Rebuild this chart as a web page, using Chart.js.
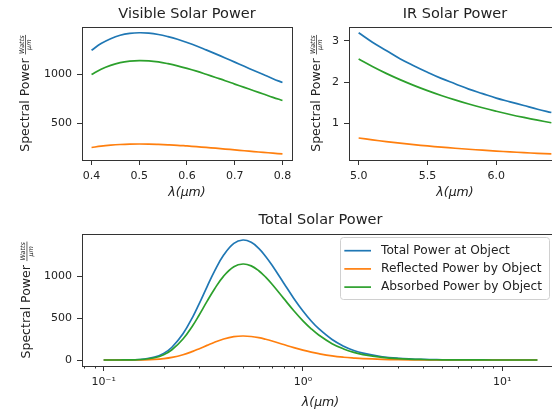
<!DOCTYPE html>
<html>
<head>
<meta charset="utf-8">
<script src="https://cdn.jsdelivr.net/npm/chart.js@4"></script>
<style>
  body { margin: 0; width: 552px; height: 415px; overflow: hidden; background: #fff; position: relative; }
  canvas { position: absolute; }
</style>
</head>
<body>
<canvas id="visChart" width="300" height="205" style="left:0;top:0"></canvas>
<canvas id="irChart" width="261" height="205" style="left:300px;top:0"></canvas>
<canvas id="allChart" width="559" height="212" style="left:0;top:203px"></canvas>
<script>
const seriesLabels = ['Total Power at Object', 'Reflected Power by Object', 'Absorbed Power by Object'];
const seriesColors = ['#1f77b4', '#ff7f0e', '#2ca02c'];

// visible band, 0.4 - 0.8 um
const visWavelength = [0.40, 0.42, 0.44, 0.46, 0.48, 0.50, 0.52, 0.54, 0.56, 0.58, 0.60, 0.62, 0.64, 0.66, 0.68, 0.70, 0.72, 0.74, 0.76, 0.78, 0.80];
const visTotal = [1250, 1319, 1369, 1404, 1423, 1430, 1426, 1412, 1390, 1363, 1330, 1294, 1254, 1213, 1171, 1128, 1085, 1042, 1000, 958, 918];
const visReflected = [250, 264, 274, 281, 285, 286, 285, 282, 278, 273, 266, 259, 251, 243, 234, 226, 217, 208, 200, 192, 184];
const visAbsorbed = [1000, 1055, 1095, 1123, 1138, 1144, 1141, 1130, 1112, 1090, 1064, 1035, 1003, 970, 937, 902, 868, 834, 800, 766, 734];

// IR band, 5.0 - 6.4 um
const irWavelength = [5.0, 5.1, 5.2, 5.3, 5.4, 5.5, 5.6, 5.7, 5.8, 5.9, 6.0, 6.1, 6.2, 6.3, 6.4];
const irTotal = [3.20, 2.97, 2.77, 2.57, 2.40, 2.24, 2.09, 1.96, 1.83, 1.72, 1.61, 1.52, 1.43, 1.34, 1.26];
const irReflected = [0.640, 0.595, 0.553, 0.515, 0.480, 0.448, 0.419, 0.392, 0.367, 0.344, 0.323, 0.303, 0.285, 0.268, 0.253];
const irAbsorbed = [2.561, 2.379, 2.212, 2.060, 1.921, 1.793, 1.675, 1.567, 1.468, 1.376, 1.292, 1.213, 1.141, 1.074, 1.012];

// whole spectrum, 0.1 - 15 um
const allWavelength = [0.1, 0.12, 0.14, 0.16, 0.18, 0.2, 0.22, 0.25, 0.28, 0.3, 0.33, 0.36, 0.4, 0.45, 0.5, 0.55, 0.6, 0.65, 0.7, 0.8, 0.9, 1.0, 1.1, 1.2, 1.4, 1.6, 1.8, 2.0, 2.5, 3, 4, 5, 6, 8, 10, 12, 15];
const allTotal = [0, 0.3, 2.3, 10.7, 33.6, 79, 152, 312, 515, 660, 872, 1059, 1250, 1389, 1430, 1402, 1330, 1234, 1128, 918, 734, 584, 465, 373, 244, 165, 114, 82, 39, 21, 7.3, 3.2, 1.6, 0.5, 0.2, 0.1, 0];
const allReflected = [0, 0.1, 0.5, 2.1, 6.7, 15.8, 30.4, 62.5, 103, 132, 174, 212, 250, 278, 286, 280, 266, 247, 226, 184, 147, 117, 93, 75, 49, 33, 23, 16, 7.7, 4.1, 1.5, 0.6, 0.3, 0.1, 0, 0, 0];
const allAbsorbed = [0, 0.2, 1.8, 8.6, 26.9, 63, 122, 250, 412, 528, 698, 847, 1000, 1111, 1144, 1122, 1064, 987, 902, 734, 587, 467, 372, 298, 195, 132, 91, 65, 31, 16.4, 5.8, 2.6, 1.3, 0.4, 0.2, 0.1, 0];

const visXTicks = [0.4, 0.5, 0.6, 0.7, 0.8];
const visYTicks = [500, 1000];
const irXTicks = [5.0, 5.5, 6.0];
const irYTicks = [1, 2, 3];
const allXTicks = [0.1, 1, 10];
const allXTickLabels = ['10⁻¹', '10⁰', '10¹'];
const allYTicks = [0, 500, 1000];

const textColor = '#222';
const axisColor = '#333';
const fontFamily = '"DejaVu Sans", sans-serif';

Chart.defaults.font.family = fontFamily;
Chart.defaults.color = textColor;

// 5% margin on each side, like matplotlib autoscale
function padRange(lo, hi) {
  const m = (hi - lo) * 0.05;
  return [lo - m, hi + m];
}

function padLogRange(lo, hi) {
  const a = Math.log10(lo), b = Math.log10(hi);
  const m = (b - a) * 0.05;
  return [Math.pow(10, a - m), Math.pow(10, b + m)];
}

function drawYLabel(ctx, x, y) {
  const main = 'Spectral Power';
  const bigFont = '12.5px ' + fontFamily;
  const smallFont = 'italic 6.5px ' + fontFamily;
  ctx.save();
  ctx.translate(x, y);
  ctx.rotate(-Math.PI / 2);
  ctx.fillStyle = textColor;
  ctx.textBaseline = 'alphabetic';
  ctx.font = bigFont;
  const mainW = ctx.measureText(main).width;
  ctx.font = smallFont;
  const fracW = Math.max(ctx.measureText('Watts').width, ctx.measureText('μm').width) + 1;
  const gap = 4;
  let u = -(mainW + gap + fracW) / 2;
  ctx.font = bigFont;
  ctx.textAlign = 'left';
  ctx.fillText(main, u, 0);
  u += mainW + gap;
  ctx.font = smallFont;
  ctx.textAlign = 'center';
  ctx.fillText('Watts', u + fracW / 2, -4.6);
  ctx.fillText('μm', u + fracW / 2, 2.6);
  ctx.fillRect(u, -3.4, fracW, 0.7);
  ctx.restore();
}

function drawLegend(chart) {
  const { ctx, chartArea: a } = chart;
  const sets = chart.data.datasets;
  ctx.save();
  ctx.font = '12.2px ' + fontFamily;
  const textW = Math.max(...sets.map(d => ctx.measureText(d.label).width));
  const w = textW + 48, h = 62;
  const right = a.right - 10, top = a.top + 2.7;
  const left = right - w;
  ctx.beginPath();
  ctx.roundRect(Math.round(left) + 0.5, Math.round(top) + 0.5, Math.round(w), h, 3);
  ctx.fillStyle = 'rgba(255,255,255,0.8)';
  ctx.fill();
  ctx.strokeStyle = '#d0d0d0';
  ctx.lineWidth = 1;
  ctx.stroke();
  sets.forEach((d, i) => {
    const y = top + 14 + i * 18.2;
    ctx.strokeStyle = d.borderColor;
    ctx.lineWidth = 1.7;
    ctx.beginPath();
    ctx.moveTo(left + 4.3, y);
    ctx.lineTo(left + 31, y);
    ctx.stroke();
    ctx.fillStyle = textColor;
    ctx.textAlign = 'left';
    ctx.textBaseline = 'middle';
    ctx.fillText(d.label, left + 41, y);
  });
  ctx.restore();
}

function decorPlugin(cfg) {
  return {
    id: 'decor',
    afterDraw(chart) {
      const { ctx, chartArea: a } = chart;
      ctx.save();
      ctx.strokeStyle = axisColor;
      ctx.lineWidth = 1;
      ctx.strokeRect(Math.round(a.left) + 0.5, Math.round(a.top) + 0.5, Math.round(a.right - a.left), Math.round(a.bottom - a.top));
      // minor ticks for the log axis
      if (cfg.logX) {
        const xs = chart.scales.x;
        ctx.beginPath();
        for (let d = -2; d <= 1; d++) {
          for (let k = 2; k <= 9; k++) {
            const v = k * Math.pow(10, d);
            if (v < xs.min || v > xs.max) continue;
            const px = Math.round(xs.getPixelForValue(v)) + 0.5;
            ctx.moveTo(px, a.bottom);
            ctx.lineTo(px, a.bottom + 2.5);
          }
        }
        ctx.stroke();
      }
      // title centred over the plot area
      ctx.fillStyle = textColor;
      ctx.font = '14.5px ' + fontFamily;
      ctx.textAlign = 'center';
      ctx.textBaseline = 'middle';
      ctx.fillText(cfg.title, (a.left + a.right) / 2, a.top - cfg.titleGap);
      ctx.restore();
      drawYLabel(ctx, cfg.yLabelX, (a.top + a.bottom) / 2);
      if (cfg.legend) drawLegend(chart);
    }
  };
}

function makeChart(id, cfg) {
  const ctx = document.getElementById(id).getContext('2d');
  const datasets = cfg.series.map((ys, i) => ({
    label: seriesLabels[i],
    data: cfg.x.map((x, j) => ({ x: x, y: ys[j] })),
    borderColor: seriesColors[i],
    borderWidth: 1.7,
    pointRadius: 0,
    fill: false,
    tension: 0.4,
    order: cfg.series.length - i
  }));
  const allY = cfg.series.flat();
  const [yMin, yMax] = padRange(Math.min(...allY), Math.max(...allY));
  const xLo = cfg.x[0], xHi = cfg.x[cfg.x.length - 1];
  const [xMin, xMax] = cfg.logX ? padLogRange(xLo, xHi) : padRange(xLo, xHi);
  const tickGrid = { display: true, drawOnChartArea: false, drawTicks: true, tickLength: 5, color: axisColor, lineWidth: 1 };

  return new Chart(ctx, {
    type: 'line',
    data: { datasets: datasets },
    options: {
      responsive: false,
      animation: false,
      devicePixelRatio: 1,
      layout: { padding: { left: 0, top: cfg.padTop, bottom: 0, right: cfg.padRight } },
      plugins: {
        legend: { display: false },
        tooltip: { enabled: false },
        title: { display: false }
      },
      scales: {
        x: {
          type: cfg.logX ? 'logarithmic' : 'linear',
          min: xMin,
          max: xMax,
          afterBuildTicks: s => { s.ticks = cfg.xTicks.map(v => ({ value: v })); },
          afterFit: s => { s.height = cfg.xHeight; },
          grid: tickGrid,
          border: { display: false },
          ticks: {
            autoSkip: false,
            maxRotation: 0,
            padding: 5,
            color: textColor,
            font: { size: 11 },
            callback: (v, i) => cfg.xLabels ? cfg.xLabels[i] : Number(v).toFixed(1)
          },
          title: {
            display: true,
            text: 'λ(μm)',
            color: textColor,
            font: { size: 12.5, style: 'italic' },
            padding: { top: 0, bottom: cfg.xTitlePad }
          }
        },
        y: {
          min: yMin,
          max: yMax,
          afterBuildTicks: s => { s.ticks = cfg.yTicks.map(v => ({ value: v })); },
          afterFit: s => { s.width = cfg.yWidth; },
          grid: tickGrid,
          border: { display: false },
          ticks: {
            padding: 5,
            color: textColor,
            font: { size: 11 },
            callback: v => String(v)
          }
        }
      }
    },
    plugins: [decorPlugin(cfg)]
  });
}

makeChart('visChart', {
  title: 'Visible Solar Power',
  x: visWavelength,
  series: [visTotal, visReflected, visAbsorbed],
  xTicks: visXTicks,
  yTicks: visYTicks,
  yWidth: 82,
  xHeight: 45,
  padTop: 26.7,
  padRight: 8,
  titleGap: 12,
  xTitlePad: 4.8,
  yLabelX: 28.5
});

makeChart('irChart', {
  title: 'IR Solar Power',
  x: irWavelength,
  series: [irTotal, irReflected, irAbsorbed],
  xTicks: irXTicks,
  yTicks: irYTicks,
  yWidth: 49,
  xHeight: 45,
  padTop: 26.7,
  padRight: 0,
  titleGap: 12,
  xTitlePad: 4.8,
  yLabelX: 19.5
});

makeChart('allChart', {
  title: 'Total Solar Power',
  x: allWavelength,
  series: [allTotal, allReflected, allAbsorbed],
  logX: true,
  xTicks: allXTicks,
  xLabels: allXTickLabels,
  yTicks: allYTicks,
  yWidth: 82,
  xHeight: 49,
  padTop: 31,
  padRight: 0,
  titleGap: 13.5,
  xTitlePad: 5,
  yLabelX: 30,
  legend: true
});
</script>
</body>
</html>
